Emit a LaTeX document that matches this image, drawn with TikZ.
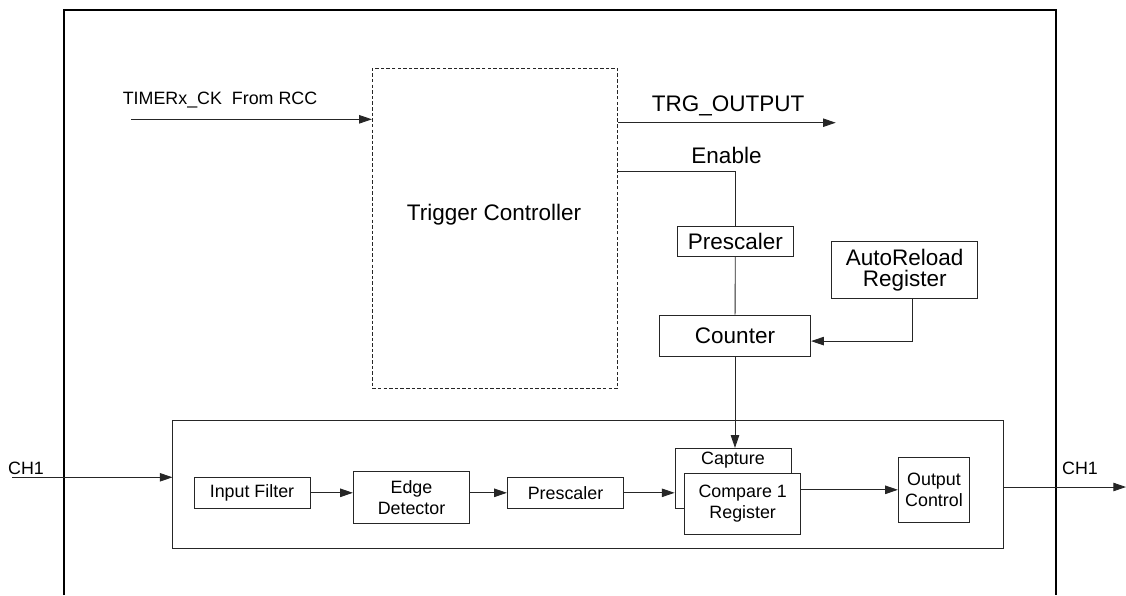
\documentclass[tikz,border=0pt]{standalone}
\usepackage{fontspec}
\setmainfont{Liberation Sans}
\usetikzlibrary{arrows.meta}

\newcommand{\bigtxt}{\fontsize{16}{15}\selectfont}
\newcommand{\smalltxt}{\fontsize{12.7}{15}\selectfont}

\begin{document}
\begin{tikzpicture}[%
      x=0.025cm, y=-0.025cm,
      line width=0.6pt,
      >={Triangle[length=9pt,width=6pt]},
      block/.style={%
        draw          = black!85,
        fill          = white,
        align         = center,
        inner sep     = 0pt,
        font          = \bigtxt,
      },
      subblock/.style={%
        block,
        font          = \smalltxt,
      },
      wire/.style={draw=black!85},
      ]

      \useasboundingbox (0,0) rectangle (1126,595);

      \draw[line width=1.2pt] (64,595) -- (64,10) -- (1056,10) -- (1056,595);

      \node[block, dash pattern=on 2.5pt off 1.5pt, minimum width=6.125cm, minimum height=8.01cm] (trig) at (494.8,228.5) {};
      \node[font=\bigtxt] (trigtxt) at (494,215) {Trigger Controller};

      \node[block, minimum width=2.9cm, minimum height=0.75cm] (pre1) at (735.3,241.7) {Prescaler};
      \node[block, minimum width=3.65cm, minimum height=1.44cm] (arr) at (904.7,269.8) {AutoReload\\Register};
      \node[block, minimum width=3.785cm, minimum height=1.025cm] (cnt) at (735,335.5) {Counter};

      \node[block, minimum width=20.76cm, minimum height=3.2cm] (chan) at (588.2,484.7) {};
      \node[subblock, minimum width=2.9cm, minimum height=0.79cm] (filt) at (252,492.8) {Input Filter};
      \node[subblock, minimum width=2.91cm, minimum height=1.29cm] (edge) at (411.5,497.5) {Edge\\Detector};
      \node[subblock, minimum width=2.91cm, minimum height=0.79cm] (pre2) at (565.5,492.8) {Prescaler};
      \node[subblock, minimum width=2.9cm, minimum height=1.5cm,
            label={[anchor=north,inner sep=2.5pt,font=\smalltxt]north:Capture}] (capt) at (733,478.3) {};
      \node[subblock, minimum width=2.9cm, minimum height=1.515cm] (cmp) at (742.7,504) {Compare 1\\Register};
      \node[subblock, minimum width=1.785cm, minimum height=1.61cm] (outc) at (934,489.8) {Output\\Control};

      \coordinate (clkin) at (131,119.3);
      \coordinate (trgout) at (835.7,122.7);
      \coordinate (enab) at (617.3,171);
      \coordinate (chin) at (12,477.3);
      \coordinate (chout) at (1126,487);

      \node[font=\smalltxt] (clklbl) at (220,100) {TIMERx\_CK\ \ From RCC};
      \node[font=\bigtxt] (trglbl) at (728,106) {TRG\_OUTPUT};
      \node[font=\bigtxt] (enlbl) at (726.5,155) {Enable};
      \node[font=\smalltxt] (chinlbl) at (26,468) {CH1};
      \node[font=\smalltxt] (choutlbl) at (1080,468) {CH1};

      \draw[wire,->] (clkin) -- (clkin -| trig.west);
      \draw[wire,->] (trig.east |- trgout) -- (trgout);
      \draw[wire] (enab) -| (pre1.north);
      \draw[wire] (pre1) -- (cnt);
      \draw[wire,->] ([xshift=0.2cm]arr.south) |- ([yshift=-0.14cm]cnt.east);
      \draw[wire,->] (cnt.south) -- (cnt.south |- capt.north);

      \draw[wire,->] (chin) -- (chin -| chan.west);
      \draw[wire,->] (filt.east) -- (filt.east -| edge.west);
      \draw[wire,->] (pre2.west -| edge.east) -- (pre2.west);
      \draw[wire,->] (pre2.east) -- (pre2.east -| capt.west);
      \draw[wire,->] (outc.west -| cmp.east) -- (outc.west);
      \draw[wire,->] (chan.east |- chout) -- (chout);

    \end{tikzpicture}
\end{document}
